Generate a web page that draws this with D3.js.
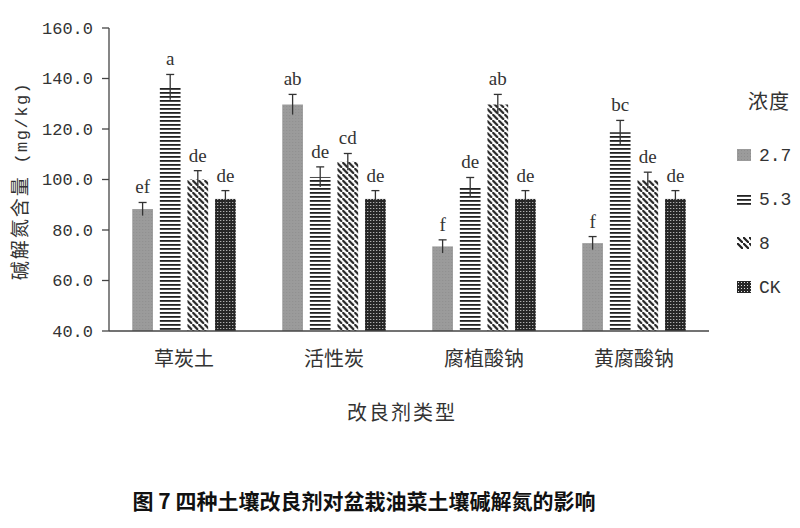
<!DOCTYPE html>
<html>
<head>
<meta charset="utf-8">
<script src="https://cdn.jsdelivr.net/npm/d3@7"></script>
<style>
body { margin: 0; background: #fff; }
.tick-label { font-family: "Liberation Mono", monospace; font-size: 17px; fill: #333; }
.cat-label { font-family: "Noto Sans CJK SC", sans-serif; font-size: 20px; fill: #333; }
.sig { font-family: "Liberation Serif", serif; font-size: 19px; fill: #333; }
.legend-text { font-family: "Liberation Mono", monospace; font-size: 18px; fill: #333; }
</style>
</head>
<body>
<div id="chart"></div>
<script>

// data
var agents = ["草炭土", "活性炭", "腐植酸钠", "黄腐酸钠"];
var levels = ["2.7", "5.3", "8", "CK"];
var values = [
  [88.3, 136.6, 100.0, 92.3],
  [129.7, 101.0, 107.0, 92.3],
  [73.5, 97.0, 129.7, 92.3],
  [74.8, 118.7, 99.7, 92.3]
];
var errors = [
  [2.6, 5.0, 3.5, 3.3],
  [4.0, 4.0, 3.3, 3.3],
  [2.6, 3.8, 4.0, 3.3],
  [2.6, 4.7, 3.2, 3.3]
];
var letters = [
  ["ef", "a", "de", "de"],
  ["ab", "de", "cd", "de"],
  ["f", "de", "ab", "de"],
  ["f", "bc", "de", "de"]
];
var yTicks = [40, 60, 80, 100, 120, 140, 160];

var width = 800, height = 528;
var margin = { top: 28, right: 91, bottom: 197, left: 109 };

var svg = d3.select("#chart").append("svg")
  .attr("width", width)
  .attr("height", height);

// patterns
var defs = svg.append("defs");

var p1 = defs.append("pattern").attr("id", "pat-0")
  .attr("patternUnits", "userSpaceOnUse").attr("width", 3).attr("height", 3);
p1.append("rect").attr("width", 3).attr("height", 3).attr("fill", "#9b9b9b");
p1.append("rect").attr("x", 1).attr("y", 1).attr("width", 1).attr("height", 1).attr("fill", "#8e8e8e");

var p2 = defs.append("pattern").attr("id", "pat-1")
  .attr("patternUnits", "userSpaceOnUse").attr("width", 4).attr("height", 4);
p2.append("rect").attr("width", 4).attr("height", 4).attr("fill", "#fff");
p2.append("rect").attr("y", 0).attr("width", 4).attr("height", 1.8).attr("fill", "#222");

var p3 = defs.append("pattern").attr("id", "pat-2")
  .attr("patternUnits", "userSpaceOnUse").attr("width", 6).attr("height", 6);
p3.append("rect").attr("width", 6).attr("height", 6).attr("fill", "#fff");
p3.append("path").attr("d", "M-1.5,-1.5 L1.5,1.5 M0,0 L6,6 M4.5,4.5 L7.5,7.5")
  .attr("stroke", "#222").attr("stroke-width", 2.2);

var p4 = defs.append("pattern").attr("id", "pat-3")
  .attr("patternUnits", "userSpaceOnUse").attr("width", 3).attr("height", 3);
p4.append("rect").attr("width", 3).attr("height", 3).attr("fill", "#262626");
p4.append("rect").attr("x", 1).attr("y", 1).attr("width", 1).attr("height", 1).attr("fill", "#ddd");

// scales
var x0 = d3.scaleBand()
  .domain(agents)
  .range([margin.left, width - margin.right])
  .paddingInner(0.31)
  .paddingOuter(0.155);

var x1 = d3.scaleBand()
  .domain(levels)
  .range([0, x0.bandwidth()])
  .paddingInner(0.25);

var y = d3.scaleLinear()
  .domain([40, 160])
  .range([height - margin.bottom, margin.top]);

// bars
var groups = svg.selectAll(".group")
  .data(agents)
  .enter().append("g")
  .attr("class", "group")
  .attr("transform", function(d) { return "translate(" + x0(d) + ",0)"; });

groups.each(function(agent, gi) {
  var g = d3.select(this);
  levels.forEach(function(lv, li) {
    var v = values[gi][li], e = errors[gi][li];
    var bx = x1(lv), bw = x1.bandwidth(), cx = bx + bw / 2;
    g.append("rect")
      .attr("x", bx)
      .attr("y", y(v))
      .attr("width", bw)
      .attr("height", y(40) - y(v))
      .attr("fill", "url(#pat-" + li + ")");
    // error bar
    g.append("line")
      .attr("x1", cx).attr("x2", cx)
      .attr("y1", y(v + e)).attr("y2", y(v - e))
      .attr("stroke", "#333").attr("stroke-width", 1.3);
    g.append("line")
      .attr("x1", cx - 4).attr("x2", cx + 4)
      .attr("y1", y(v + e)).attr("y2", y(v + e))
      .attr("stroke", "#333").attr("stroke-width", 1.3);
    g.append("text")
      .attr("class", "sig")
      .attr("x", cx)
      .attr("y", y(v + e) - 9)
      .attr("text-anchor", "middle")
      .text(letters[gi][li]);
  });
});

// y axis
var yAxis = svg.append("g");
yAxis.append("line")
  .attr("x1", margin.left).attr("x2", margin.left)
  .attr("y1", y(160)).attr("y2", y(40))
  .attr("stroke", "#444").attr("stroke-width", 1.3);
yAxis.selectAll(".ytick")
  .data(yTicks)
  .enter().append("line")
  .attr("x1", margin.left - 7).attr("x2", margin.left)
  .attr("y1", function(d) { return y(d); })
  .attr("y2", function(d) { return y(d); })
  .attr("stroke", "#444").attr("stroke-width", 1.3);
yAxis.selectAll(".tick-label")
  .data(yTicks)
  .enter().append("text")
  .attr("class", "tick-label")
  .attr("x", margin.left - 16)
  .attr("y", function(d) { return y(d); })
  .attr("dy", "0.35em")
  .attr("text-anchor", "end")
  .text(function(d) { return d3.format(".1f")(d); });

// x axis
svg.append("line")
  .attr("x1", margin.left).attr("x2", width - margin.right)
  .attr("y1", y(40)).attr("y2", y(40))
  .attr("stroke", "#444").attr("stroke-width", 1.3);

svg.selectAll(".cat-label")
  .data(agents)
  .enter().append("text")
  .attr("class", "cat-label")
  .attr("x", function(d) { return x0(d) + x0.bandwidth() / 2; })
  .attr("y", y(40) + 35)
  .attr("text-anchor", "middle")
  .text(function(d) { return d; });

// axis titles
svg.append("text")
  .attr("class", "cat-label")
  .attr("x", 402)
  .attr("y", 420)
  .attr("text-anchor", "middle")
  .attr("letter-spacing", 2)
  .text("改良剂类型");

var yt = svg.append("text")
  .attr("transform", "translate(27,181) rotate(-90)")
  .attr("text-anchor", "middle");
yt.append("tspan")
  .attr("font-family", "Noto Sans CJK SC, sans-serif")
  .attr("font-size", 19).attr("fill", "#333")
  .attr("letter-spacing", 2)
  .text("碱解氮含量");
yt.append("tspan")
  .attr("font-family", "Liberation Mono, monospace")
  .attr("font-size", 17).attr("fill", "#333")
  .attr("letter-spacing", 1.5)
  .text(" (mg/kg)");

// legend
var legend = svg.append("g");
legend.append("text")
  .attr("class", "cat-label")
  .attr("x", 748)
  .attr("y", 109)
  .attr("letter-spacing", 1)
  .text("浓度");

var items = legend.selectAll(".legend-item")
  .data(levels)
  .enter().append("g")
  .attr("class", "legend-item")
  .attr("transform", function(d, i) { return "translate(737," + (155 + i * 44) + ")"; });
items.append("rect")
  .attr("x", 0).attr("y", -6)
  .attr("width", 14).attr("height", 12)
  .attr("fill", function(d, i) { return "url(#pat-" + i + ")"; });
items.append("text")
  .attr("class", "legend-text")
  .attr("x", 22)
  .attr("dy", "0.35em")
  .text(function(d) { return d; });

// caption
svg.append("text")
  .attr("x", 364)
  .attr("y", 509)
  .attr("text-anchor", "middle")
  .attr("font-family", "Noto Sans CJK SC, sans-serif")
  .attr("font-weight", "bold")
  .attr("font-size", 21)
  .attr("fill", "#111")
  .text("图 7 四种土壤改良剂对盆栽油菜土壤碱解氮的影响");

</script>
</body>
</html>
